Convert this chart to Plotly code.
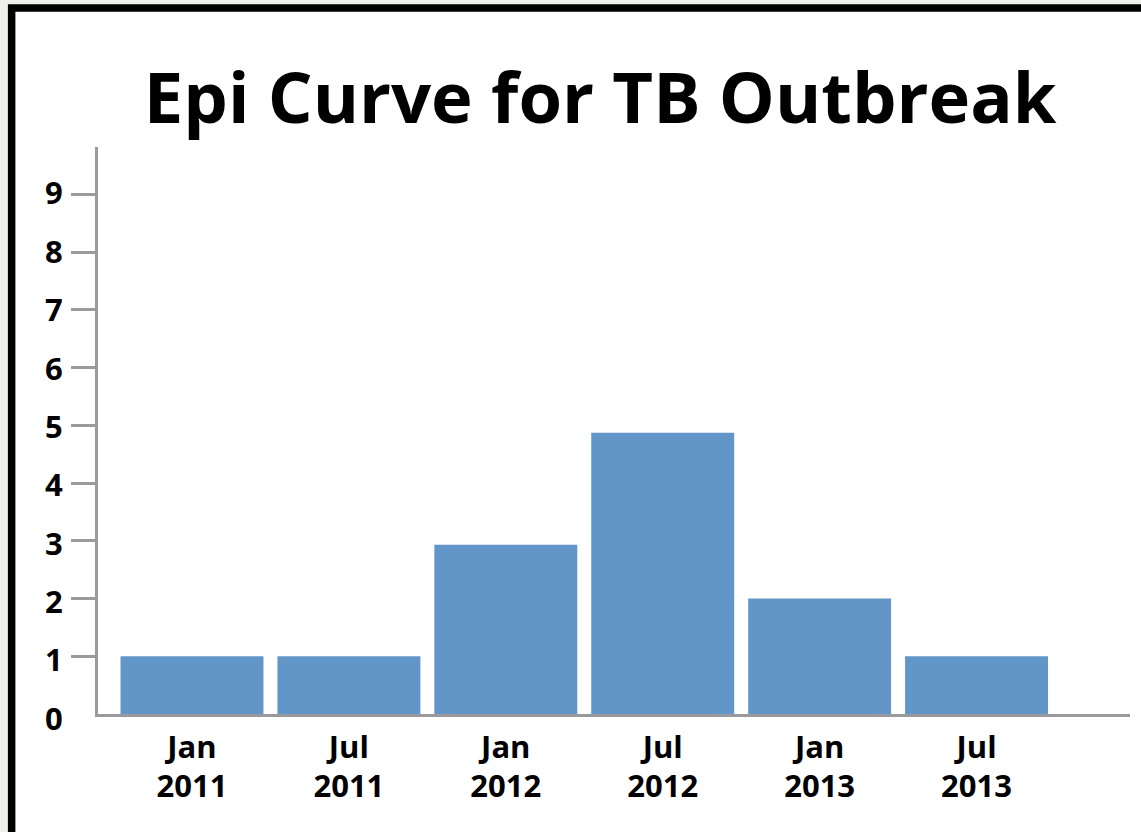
import plotly.graph_objects as go

categories = ["Jan 2011", "Jul 2011", "Jan 2012", "Jul 2012", "Jan 2013", "Jul 2013"]
month_labels = ["Jan", "Jul", "Jan", "Jul", "Jan", "Jul"]
year_labels = ["2011", "2011", "2012", "2012", "2013", "2013"]
cases = [1, 1, 2.93, 4.87, 2, 1]
y_ticks = [1, 2, 3, 4, 5, 6, 7, 8, 9]
y_labels = [0, 1, 2, 3, 4, 5, 6, 7, 8, 9]

W, H = 1141, 832
ml, mr, mt, mb = 97.5, 11, 147, 117.5
pw = W - ml - mr
ph = H - mt - mb

def px_x(p):
    return (p - ml) / pw

def px_y(p):
    return (H - mb - p) / ph

FONT = "Open Sans"
AX = "#9a9a9e"
XRANGE = [-0.599, 5.978]
YRANGE = [0, 9.82]
YLABELRANGE = [0, 9.711]
TICKFONT = dict(family=FONT, size=31, color="black", weight="bold")

fig = go.Figure(go.Bar(
    x=categories, y=cases, marker=dict(color="#6396c8", line=dict(width=0)),
    hoverinfo="x+y",
))
# invisible helper traces so the overlay axes render
fig.add_trace(go.Scatter(x=categories, y=cases, xaxis="x2", yaxis="y",
                         mode="markers", marker=dict(opacity=0), hoverinfo="skip"))
fig.add_trace(go.Scatter(x=categories, y=cases, xaxis="x", yaxis="y2",
                         mode="markers", marker=dict(opacity=0), hoverinfo="skip"))

fig.update_layout(
    width=W, height=H,
    margin=dict(l=ml, r=mr, t=mt, b=mb, pad=0),
    paper_bgcolor="#f0efeb",
    plot_bgcolor="rgba(0,0,0,0)",
    bargap=0.089,
    showlegend=False,
    title=dict(
        text="<b>Epi Curve for TB Outbreak</b>",
        font=dict(family=FONT, size=70.5, color="black"),
        x=0.526, xanchor="center", xref="container",
        y=1 - 98 / H, yanchor="middle", yref="container",
    ),
    font=dict(family=FONT, color="black"),
    xaxis=dict(
        type="category",
        tickmode="array", tickvals=categories, ticktext=month_labels,
        range=XRANGE,
        showgrid=False, zeroline=False,
        showline=True, linecolor=AX, linewidth=3,
        ticks="", ticklabelstandoff=4,
        tickfont=TICKFONT,
    ),
    xaxis2=dict(
        type="category", overlaying="x", anchor="y", side="bottom",
        tickmode="array", tickvals=categories, ticktext=year_labels,
        range=XRANGE,
        showgrid=False, zeroline=False, showline=False,
        ticks="", ticklabelstandoff=51,
        tickfont=TICKFONT,
    ),
    yaxis=dict(
        range=YRANGE,
        tickmode="array", tickvals=y_ticks,
        showgrid=False, zeroline=False,
        showline=True, linecolor=AX, linewidth=3,
        ticks="outside", ticklen=24, tickwidth=3, tickcolor=AX,
        showticklabels=False,
    ),
    yaxis2=dict(
        range=YLABELRANGE, overlaying="y", anchor="x", side="left",
        tickmode="array", tickvals=y_labels,
        showgrid=False, zeroline=False, showline=False,
        ticks="outside", ticklen=24, tickwidth=3, tickcolor="rgba(0,0,0,0)",
        ticklabelstandoff=4, ticklabelshift=5,
        tickfont=TICKFONT,
    ),
    shapes=[dict(
        type="rect", xref="paper", yref="paper", layer="below",
        x0=px_x(11.1), x1=px_x(W + 40), y0=px_y(H + 40), y1=px_y(7.8),
        fillcolor="white", line=dict(color="black", width=7.5),
    )],
)

fig.write_html(
    "out.html",
    config={"displayModeBar": False},
    post_script="document.body.style.margin='0';document.body.style.background='#f0efeb';",
)
